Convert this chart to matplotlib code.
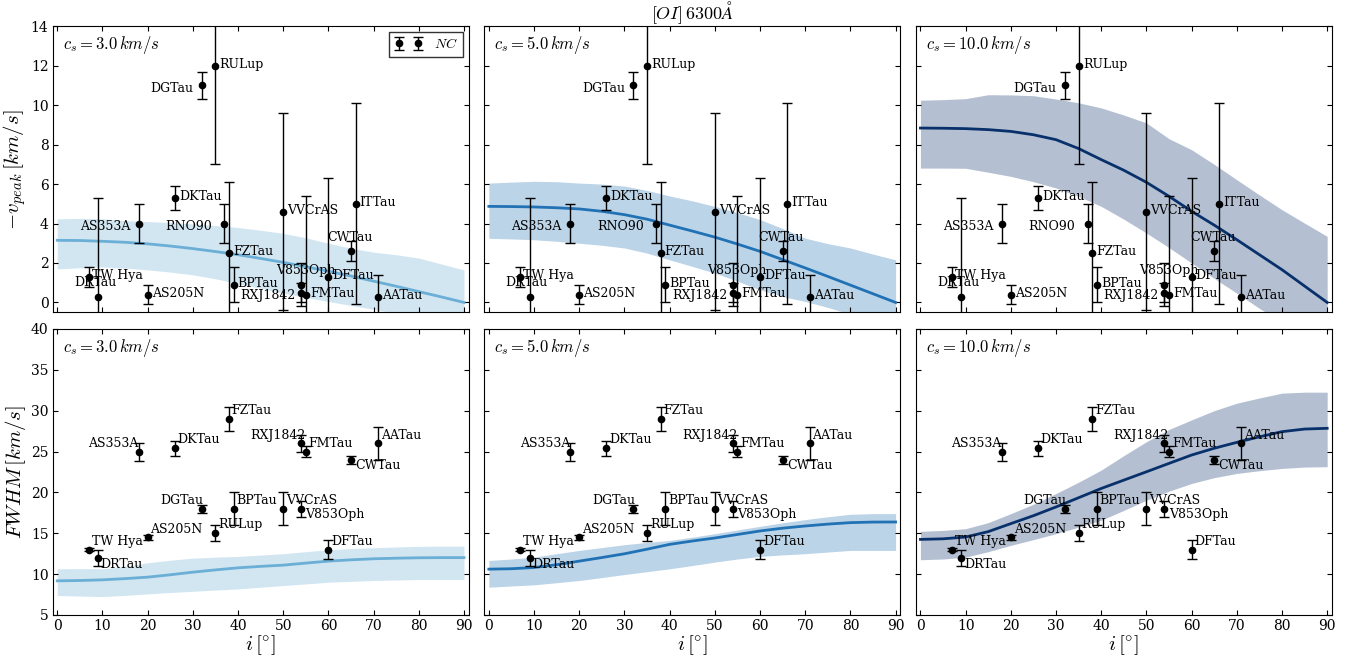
import matplotlib
matplotlib.use("Agg")
import matplotlib.pyplot as plt
import numpy as np

plt.rcParams["font.family"] = "DejaVu Serif"
plt.rcParams["mathtext.fontset"] = "cm"

# observed sources
names = ["TW Hya", "DRTau", "AS353A", "AS205N", "DKTau", "DGTau", "RULup", "RNO90", "FZTau",
         "BPTau", "VVCrAS", "V853Oph", "RXJ1842", "FMTau", "DFTau", "CWTau", "ITTau", "AATau"]
incl = [7, 9, 18, 20, 26, 32, 35, 37, 38, 39, 50, 54, 54, 55, 60, 65, 66, 71]
vpeak = [1.3, 0.3, 4.0, 0.4, 5.3, 11.0, 12.0, 4.0, 2.5, 0.9, 4.6, 0.9, 0.5, 0.4, 1.3, 2.6, 5.0, 0.3]
vpeak_err = [0.5, 5.0, 1.0, 0.5, 0.6, 0.7, 5.0, 1.0, 3.6, 0.9, 5.0, 1.1, 0.5, 5.0, 5.0, 0.5, 5.1, 1.1]
fwhm = [13.0, 12.0, 25.0, 14.5, 25.4, 18.0, 15.0, np.nan, 29.0, 18.0, 18.0, 18.0, 26.0, 25.0,
        13.0, 24.0, np.nan, 26.0]
fwhm_err = [0.15, 1.0, 1.1, 0.3, 0.9, 0.5, 1.0, np.nan, 1.5, 2.0, 2.0, 1.0, 1.0, 0.7,
            1.2, 0.5, np.nan, 2.0]

# model curves, read every 5 deg
i_mod = [0, 5, 10, 15, 20, 25, 30, 35, 40, 45, 50, 55, 60, 65, 70, 75, 80, 85, 90]
cs_vals = [3.0, 5.0, 10.0]
line_cols = ["#6baed6", "#2171b5", "#08306b"]

v_mid = [[3.15, 3.14, 3.10, 3.05, 2.97, 2.86, 2.73, 2.58, 2.42, 2.23, 2.03, 1.81, 1.58, 1.34,
          1.08, 0.82, 0.55, 0.28, 0.0],
         [4.87, 4.86, 4.84, 4.80, 4.74, 4.62, 4.45, 4.22, 3.92, 3.62, 3.31, 2.96, 2.59, 2.17,
          1.75, 1.32, 0.88, 0.44, 0.0],
         [8.84, 8.83, 8.81, 8.76, 8.67, 8.50, 8.25, 7.80, 7.24, 6.70, 6.09, 5.38, 4.62, 3.92,
          3.18, 2.42, 1.66, 0.83, 0.0]]
v_hi = [[4.24, 4.26, 4.24, 4.15, 4.10, 4.05, 3.98, 3.90, 3.80, 3.66, 3.50, 3.28, 3.00, 2.75,
         2.55, 2.42, 2.25, 1.95, 1.65],
        [6.05, 6.10, 6.14, 6.12, 6.05, 6.00, 5.90, 5.68, 5.40, 5.15, 4.87, 4.55, 4.20, 3.75,
         3.26, 2.98, 2.76, 2.45, 2.16],
        [10.25, 10.28, 10.33, 10.53, 10.52, 10.48, 10.31, 10.12, 9.86, 9.50, 9.10, 8.30, 7.74,
         7.00, 6.22, 5.45, 4.70, 4.02, 3.35]]
v_lo = [[1.70, 1.76, 1.80, 1.74, 1.65, 1.54, 1.40, 1.20, 0.95, 0.72, 0.47, 0.25, 0.05, -0.15,
         -0.35, -0.55, -0.80, -1.00, -1.20],
        [3.25, 3.22, 3.18, 3.10, 3.00, 2.90, 2.76, 2.50, 2.16, 1.83, 1.49, 1.08, 0.64, 0.30,
         0.05, -0.25, -0.60, -0.90, -1.20],
        [6.81, 6.81, 6.80, 6.60, 6.39, 6.12, 5.80, 5.38, 4.87, 4.22, 3.52, 2.78, 2.00, 1.22,
         0.47, -0.30, -1.00, -1.50, -2.00]]

w_mid = [[9.18, 9.22, 9.30, 9.45, 9.63, 9.92, 10.24, 10.52, 10.77, 10.95, 11.10, 11.35, 11.59,
          11.75, 11.88, 11.95, 12.00, 12.02, 12.02],
         [10.61, 10.66, 10.81, 11.15, 11.59, 12.03, 12.49, 13.05, 13.64, 14.05, 14.42, 14.85,
          15.28, 15.62, 15.89, 16.12, 16.30, 16.37, 16.38],
         [14.25, 14.32, 14.54, 15.20, 16.18, 17.15, 18.22, 19.35, 20.48, 21.50, 22.52, 23.55,
          24.57, 25.40, 26.12, 26.80, 27.43, 27.75, 27.84]]
w_hi = [[10.65, 10.68, 10.65, 10.95, 11.39, 11.70, 11.96, 12.08, 12.17, 12.33, 12.50, 12.75,
         12.98, 13.12, 13.23, 13.32, 13.40, 13.43, 13.43],
        [11.67, 11.85, 12.08, 12.50, 12.90, 13.25, 13.60, 13.88, 14.13, 14.52, 14.95, 15.40,
         15.85, 16.28, 16.67, 17.02, 17.32, 17.40, 17.40],
        [15.24, 15.35, 15.56, 16.30, 17.40, 18.55, 19.86, 21.25, 22.73, 24.50, 26.20, 27.70,
         28.87, 30.00, 30.91, 31.55, 32.14, 32.26, 32.26]]
w_lo = [[7.38, 7.32, 7.25, 7.40, 7.58, 7.75, 7.90, 8.05, 8.19, 8.40, 8.60, 8.80, 9.01, 9.12,
         9.22, 9.28, 9.34, 9.34, 9.34],
        [8.40, 8.55, 8.69, 8.95, 9.22, 9.58, 9.95, 10.30, 10.65, 11.05, 11.47, 11.85, 12.17,
         12.35, 12.50, 12.70, 12.90, 12.90, 12.90],
        [11.76, 11.85, 12.08, 12.75, 13.52, 14.22, 14.95, 15.75, 16.59, 17.80, 19.04, 20.15,
         21.09, 21.80, 22.32, 22.65, 22.93, 23.10, 23.14]]

# label offsets (points) and alignment
top_lab = {"TW Hya": (2, 1, "left"), "DRTau": (-2, 10, "center"), "AS353A": (-6, -2, "right"),
           "AS205N": (3, 1, "left"), "DKTau": (3, 1, "left"), "DGTau": (-6, -2, "right"),
           "RULup": (3, 1, "left"), "RNO90": (-9, -2, "right"), "FZTau": (3, 1, "left"),
           "BPTau": (3, 1, "left"), "VVCrAS": (3, 1, "left"), "V853Oph": (3, 10, "center"),
           "RXJ1842": (-4, -2, "right"), "FMTau": (3, 1, "left"), "DFTau": (3, 1, "left"),
           "CWTau": (-1, 10, "center"), "ITTau": (3, 1, "left"), "AATau": (3, 1, "left")}
bot_lab = {"TW Hya": (2, 6, "left"), "DRTau": (2, -5, "left"), "AS353A": (0, 6, "right"),
           "AS205N": (2, 6, "left"), "DKTau": (2, 6, "left"), "DGTau": (1, 6, "right"),
           "RULup": (2, 6, "left"), "FZTau": (2, 6, "left"), "BPTau": (2, 6, "left"),
           "VVCrAS": (2, 6, "left"), "V853Oph": (3, -4, "left"), "RXJ1842": (3, 6, "right"),
           "FMTau": (2, 6, "left"), "CWTau": (3, -4, "left"), "AATau": (2, 6, "left"),
           "DFTau": (2, 6, "left")}

fig, axes = plt.subplots(2, 3, figsize=(13.52, 6.56), dpi=100, sharex=True, sharey="row")
fig.subplots_adjust(left=0.039, right=0.985, top=0.960, bottom=0.0625, wspace=0.038, hspace=0.058)

ebkw = dict(fmt="o", color="k", ms=4.5, elinewidth=1, capsize=3.5, capthick=1)

for k in range(3):
    ax = axes[0, k]
    ax.fill_between(i_mod, v_lo[k], v_hi[k], color=line_cols[k], alpha=0.3, lw=0)
    ax.plot(i_mod, v_mid[k], color=line_cols[k], lw=2)
    eb = ax.errorbar(incl, vpeak, yerr=vpeak_err, **ebkw)
    for n, x, y in zip(names, incl, vpeak):
        dx, dy, ha = top_lab[n]
        ax.annotate(n, (x, y), xytext=(dx, dy), textcoords="offset points",
                    ha=ha, va="center", fontsize=9)
    ax.text(0.024, 0.934, r"$c_s=%.1f\,km/s$" % cs_vals[k], transform=ax.transAxes,
            fontsize=12, va="center")
    if k == 0:
        leg = ax.legend([eb], [r"$NC$"], loc="upper right", numpoints=2, fancybox=False,
                        fontsize=10, borderaxespad=0.4, handletextpad=0.8)
        leg.get_frame().set_edgecolor("k")

    ax = axes[1, k]
    ax.fill_between(i_mod, w_lo[k], w_hi[k], color=line_cols[k], alpha=0.3, lw=0)
    ax.plot(i_mod, w_mid[k], color=line_cols[k], lw=2)
    ax.errorbar(incl, fwhm, yerr=fwhm_err, **ebkw)
    for n, x, y in zip(names, incl, fwhm):
        if n not in bot_lab:
            continue
        dx, dy, ha = bot_lab[n]
        ax.annotate(n, (x, y), xytext=(dx, dy), textcoords="offset points",
                    ha=ha, va="center", fontsize=9)
    ax.text(0.024, 0.934, r"$c_s=%.1f\,km/s$" % cs_vals[k], transform=ax.transAxes,
            fontsize=12, va="center")
    ax.set_xlabel(r"$i\,[^{\circ}]$", fontsize=15, labelpad=0)

for ax in axes.flat:
    ax.tick_params(direction="in", top=True, right=True, labelsize=10, pad=3)
    ax.set_xlim(-1, 91)
    ax.set_xticks(np.arange(0, 91, 10))

axes[0, 0].set_ylim(-0.5, 14)
axes[0, 0].set_yticks(np.arange(0, 15, 2))
axes[1, 0].set_ylim(5, 40)
axes[1, 0].set_yticks(np.arange(5, 41, 5))
axes[0, 0].set_ylabel(r"$-v_{peak}\,[km/s]$", fontsize=15, labelpad=2)
axes[1, 0].set_ylabel(r"$FWHM\,[km/s]$", fontsize=15, labelpad=2)
axes[0, 1].set_title(r"$[OI]\,6300\AA$", fontsize=13, pad=0)

plt.savefig("out.png", dpi=100)
